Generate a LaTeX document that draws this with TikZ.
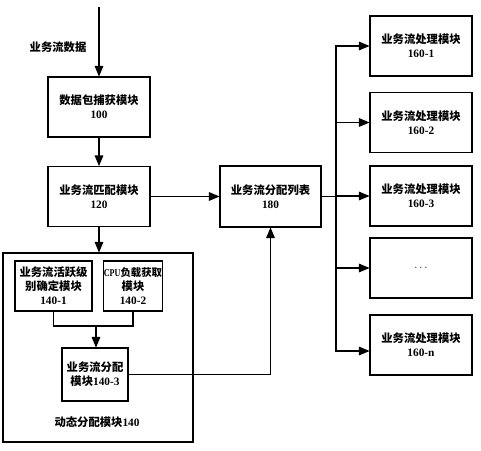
\documentclass[tikz,border=0pt]{standalone}
\usepackage{fontspec}
\setmainfont{Liberation Serif}
\newfontfamily\cjk{Noto Sans CJK SC}
\usetikzlibrary{arrows}
\newcommand{\zh}[1]{{\cjk\bfseries #1}}

\begin{document}
\begin{tikzpicture}[x=0.75pt,y=-0.75pt,
  mokuai/.style={draw,line width=0.8pt,align=center,inner sep=0pt,
    font=\fontsize{8.5}{10.5}\selectfont\bfseries},
  jiantou/.style={-triangle 45,line width=0.8pt},
  xian/.style={line width=0.8pt}]
\useasboundingbox (0,0) rectangle (481,450);

% 左列
\node[mokuai,minimum width=76.5pt,minimum height=45pt] (bao) at (99,107) {\zh{数据包捕获模块}\\100};
\node[mokuai,minimum width=76.5pt,minimum height=45pt] (pipei) at (99,196.5) {\zh{业务流匹配模块}\\120};
\node[font=\fontsize{8.5}{10.5}\selectfont] (shuju) at (58,47) {\zh{业务流数据}};
\coordinate (ru) at (99,7);

% 动态分配模块
\node[mokuai,minimum width=142.5pt,minimum height=141.75pt] (dongtai) at (98,347.5) {};
\node[font=\fontsize{8.5}{10.5}\selectfont\bfseries] (dongtaibiao) at (97,422) {\zh{动态分配模块}140};
\node[mokuai,minimum width=57.75pt,minimum height=37.5pt] (huoyue) at (53.5,286) {\zh{业务流活跃级}\\\zh{别确定模块}\\140-1};
\node[mokuai,minimum width=43.5pt,minimum height=37.5pt] (fuzai) at (133,286) {{\fontsize{7.8}{10.5}\selectfont\scalebox{0.78}[1]{CPU}\zh{负载获取}}\\\zh{模块}\\140-2};
\node[mokuai,minimum width=49.5pt,minimum height=39.75pt] (fenpei) at (95,374.5) {\zh{业务流分配}\\\zh{模块}140-3};
\coordinate (hui) at (96,326);

% 分配列表
\node[mokuai,minimum width=75.75pt,minimum height=45.75pt] (liebiao) at (270.5,196.5) {\zh{业务流分配列表}\\180};
\coordinate (zongxian) at (336,196.5);

% 处理模块
\node[mokuai,minimum width=76.5pt,minimum height=45pt] (chuli1) at (421,46) {\zh{业务流处理模块}\\160-1};
\node[mokuai,minimum width=76.5pt,minimum height=45pt] (chuli2) at (421,122.5) {\zh{业务流处理模块}\\160-2};
\node[mokuai,minimum width=76.5pt,minimum height=45pt] (chuli3) at (421,196) {\zh{业务流处理模块}\\160-3};
\node[mokuai,minimum width=76.5pt,minimum height=45pt] (chulid) at (421,268) {$\cdots$};
\node[mokuai,minimum width=76.5pt,minimum height=45pt] (chulin) at (421,345) {\zh{业务流处理模块}\\160-n};

\draw[jiantou] (ru) -- (bao);
\draw[jiantou] (bao) -- (pipei);
\draw[jiantou] (pipei) -- (liebiao);
\draw[jiantou] (pipei.south) -- (pipei.south |- dongtai.north);
\draw[xian] (huoyue.south) |- (hui) -| (fuzai.south);
\draw[jiantou] (hui) -- (hui |- fenpei.north);
\draw[jiantou] (fenpei.east) -| (liebiao.south);
\draw[xian] (liebiao.east) -- (zongxian);
\foreach \m in {chuli1,chuli2,chuli3,chulid}
  \draw[jiantou] (zongxian) |- (\m.west);
\draw[jiantou] (zongxian) |- ([yshift=-4.5pt]chulin.west);
\end{tikzpicture}
\end{document}
